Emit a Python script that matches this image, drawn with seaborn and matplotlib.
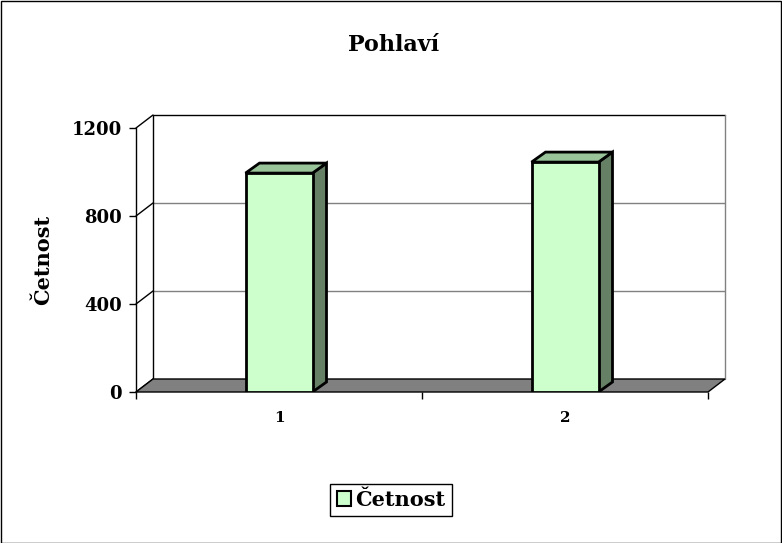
import matplotlib
matplotlib.use("Agg")
import matplotlib.pyplot as plt
from matplotlib.patches import Rectangle, Patch
import numpy as np
import pandas as pd
import seaborn as sns

# data
categories = ["1", "2"]
cetnost = [995, 1045]
yticks = [0, 400, 800, 1200]

sns.set_style("white")
plt.rcParams["font.family"] = ["DejaVu Serif"]
plt.rcParams["font.weight"] = "bold"
for k in ["text.color", "axes.labelcolor", "xtick.color", "ytick.color"]:
    plt.rcParams[k] = "black"

W, H = 782, 543
fig = plt.figure(figsize=(W / 100, H / 100), dpi=100)

# pixel layout of the 3D box (front plane / back wall)
px_left, px_right_front, px_right_back = 136, 708, 725
px_zero, px_top_front, px_top_back = 392, 128, 115
ppx = (px_right_front - px_left) / 2.0          # px per category
ppy = (px_zero - px_top_front) / 1200.0         # px per unit
ddx = (px_right_back - px_right_front) / ppx    # wall depth in data units
ddy = (px_top_front - px_top_back) / ppy

ax = fig.add_axes([px_left / W, (H - px_zero) / H,
                   (px_right_back - px_left) / W, (px_zero - px_top_back) / H])

# bars (front faces)
df = pd.DataFrame({"cat": categories, "val": cetnost})
bw = 67 / ppx
sns.barplot(data=df, x="cat", y="val", ax=ax, width=bw, color="#CCFFCC",
            saturation=1, edgecolor="black", linewidth=2, zorder=3)

ax.set_xlim(-0.5, 1.5 + ddx)
ax.set_ylim(0, 1200 + ddy)
for s in ax.spines.values():
    s.set_visible(False)

# floor
ax.fill([-0.5, 1.5, 1.5 + ddx, -0.5 + ddx], [0, 0, ddy, ddy],
        facecolor="#808080", edgecolor="black", linewidth=1, zorder=1, clip_on=False)
# back wall + gridlines
for v in [400, 800]:
    ax.plot([-0.5 + ddx, 1.5 + ddx], [v + ddy, v + ddy], color="#808080", lw=1, zorder=0.5)
ax.plot([-0.5 + ddx, -0.5 + ddx, 1.5 + ddx], [ddy, 1200 + ddy, 1200 + ddy],
        color="black", lw=1, zorder=0.6, clip_on=False)
ax.plot([1.5 + ddx, 1.5 + ddx], [ddy, 1200 + ddy], color="#808080", lw=1,
        zorder=0.6, clip_on=False)
# side wall diagonals and front axis
for v in yticks:
    ax.plot([-0.5, -0.5 + ddx], [v, v + ddy], color="black", lw=1, zorder=0.6, clip_on=False)
ax.plot([-0.5, -0.5], [0, 1200], color="black", lw=1, clip_on=False)

bdx = 14 / ppx
bdy = 10 / ppy
for i, v in enumerate(cetnost):
    xr = i + bw / 2
    xl = i - bw / 2
    ax.fill([xr, xr + bdx, xr + bdx, xr], [0, bdy, v + bdy, v],
            facecolor="#668066", edgecolor="black", linewidth=2, zorder=2.5)
    ax.fill([xl, xr, xr + bdx, xl + bdx], [v, v, v + bdy, v + bdy],
            facecolor="#99C399", edgecolor="black", linewidth=2, zorder=2.5)

ax.set_yticks(yticks)
ax.set_yticklabels([str(t) for t in yticks], fontsize=13, fontweight="bold")
ax.set_xticks([0, 1])
ax.set_xticklabels(categories, fontsize=11, fontweight="bold")
ax.set_xticks([-0.5, 0.5, 1.5], minor=True)
ax.tick_params(axis="y", which="major", left=True, length=5, width=1, color="black", pad=5)
ax.tick_params(axis="x", which="major", bottom=False, pad=10)
ax.tick_params(axis="x", which="minor", bottom=True, length=5, width=1, color="black")
ax.set_xlabel("")
ax.set_ylabel("")
ax.grid(False)

fig.text(394 / W, 1 - 45 / H, "Pohlaví", ha="center", va="center",
         fontsize=16, fontweight="bold")
fig.text(43 / W, 1 - 260 / H, "Četnost", ha="center", va="center",
         rotation=90, fontsize=15, fontweight="bold")

leg = fig.legend(handles=[Patch(facecolor="#CCFFCC", edgecolor="black", linewidth=1.5)],
                 labels=["Četnost"], loc="center", bbox_to_anchor=(391 / W, 1 - 500 / H),
                 prop={"size": 15, "weight": "bold"}, fancybox=False, framealpha=1,
                 handlelength=0.7, handleheight=0.7, handletextpad=0.2,
                 borderpad=0.3, borderaxespad=0)
leg.get_frame().set_edgecolor("black")
leg.get_frame().set_linewidth(1)

fig.patches.append(Rectangle((0.5 / W, 0.5 / H), 1 - 1.5 / W, 1 - 1.5 / H,
                             transform=fig.transFigure, fill=False,
                             edgecolor="black", linewidth=1))

fig.savefig("out.png", dpi=100)
plt.close(fig)
